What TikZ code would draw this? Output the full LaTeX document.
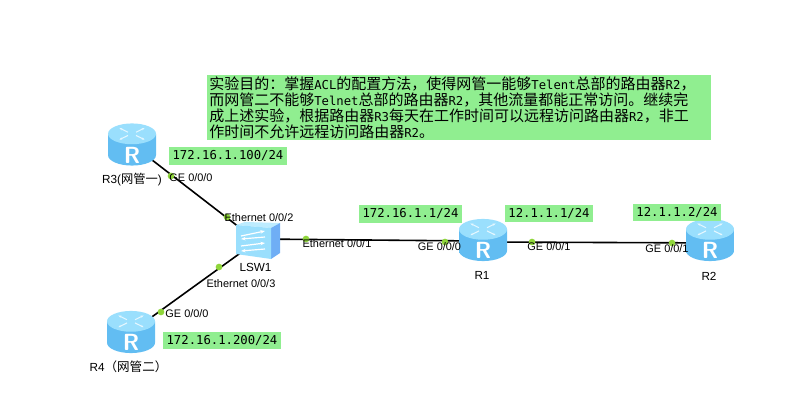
\documentclass[tikz,border=0pt]{standalone}
\usepackage{fontspec}
\usepackage{xcolor}
\usepackage{tikz}
\usetikzlibrary{arrows.meta}
\setmainfont{Liberation Sans}
\setmonofont{DejaVu Sans Mono}
\newfontfamily\cjk{Noto Sans CJK SC}
\definecolor{notegreen}{HTML}{90EE90}
\definecolor{portgreen}{HTML}{8FD63A}
\definecolor{iconpale}{HTML}{BDECFF}
\definecolor{iconmid}{HTML}{9ADFFD}
\definecolor{icondark}{HTML}{62BDF2}
\definecolor{swside}{HTML}{6FAEF5}
\newcommand{\mn}[1]{{\ttfamily\fontsize{9.2pt}{12pt}\selectfont #1}}

\begin{document}
\begin{tikzpicture}[
    x=0.75pt, y=-0.75pt,
    font=\fontsize{8.2pt}{10pt}\selectfont,
    routerbox/.style={rectangle, minimum width=36pt, minimum height=31.5pt, inner sep=0pt},
    routerbody/.style={left color=icondark, middle color=iconpale, right color=icondark},
    routertop/.style={fill=iconmid},
    rletter/.style={text=white, font=\fontsize{17.5pt}{17.5pt}\sffamily\bfseries\selectfont, inner sep=0pt},
    switchbox/.style={rectangle, minimum width=33pt, minimum height=28pt, inner sep=0pt},
    swarrow/.style={white, line width=0.9pt, -{Stealth[length=3.5pt]}},
    ipbox/.style={rectangle, fill=notegreen, inner sep=0pt, minimum height=13pt,
                  font=\ttfamily\fontsize{9.2pt}{12pt}\selectfont},
    notebox/.style={rectangle, fill=notegreen, anchor=north west, inner sep=1.5pt,
                    text width=375pt, minimum height=48pt, align=left,
                    font=\cjk\fontsize{11.25pt}{11.8pt}\selectfont},
    devlabel/.style={inner sep=0pt, font=\fontsize{8.8pt}{10pt}\selectfont},
    portlabel/.style={inner sep=0pt},
    port/.style={circle, fill=portgreen, inner sep=0pt, minimum size=5pt},
    link/.style={line width=1.2pt, black},
    glyph/.style={iconpale!40!white, line width=0.8pt, -{Stealth[length=2.2pt]}}
  ]
    \useasboundingbox (0,0) rectangle (795,402);

    %% ── Note
    \node[notebox] (note) at (207,75) {实验目的：掌握\mn{ACL}的配置方法，使得网管一能够\mn{Telent}总部的路由器\mn{R2}，\\
      而网管二不能够\mn{Telnet}总部的路由器\mn{R2}，其他流量都能正常访问。继续完\\
      成上述实验，根据路由器\mn{R3}每天在工作时间可以远程访问路由器\mn{R2}，非工\\
      作时间不允许远程访问路由器\mn{R2}。};

    %% ── Devices
    \node[routerbox] (r3) at (132,144.5) {};
    \node[routerbox] (r4) at (131,332) {};
    \node[routerbox] (r1) at (483,240) {};
    \node[routerbox] (r2) at (710,240) {};
    \node[switchbox] (lsw1) at (257,241) {};

    %% Links
    \draw[link] (r3.center) -- (lsw1.center);
    \draw[link] (r4.center) -- (lsw1.center);
    \draw[link] ([yshift=1.5pt]lsw1.center) -- ([yshift=-0.8pt]r1.center);
    \draw[link] ([yshift=-1.5pt]r1.center) -- ([yshift=-2.2pt]r2.center);

    %% Router faces
    \foreach \r in {r3,r4,r1,r2} {
      \shade[routerbody] ([shift={(-18pt,8pt)}]\r.center) -- ([shift={(-18pt,-8pt)}]\r.center)
        arc[start angle=180, end angle=360, x radius=18pt, y radius=7.8pt]
        -- ([shift={(18pt,8pt)}]\r.center) -- cycle;
      \fill[routertop] ([yshift=8pt]\r.center) ellipse (18pt and 7.8pt);
      \foreach \sx/\sy in {1/1,-1/1,-1/-1,1/-1} {
        \draw[glyph] ([shift={(\sx*3pt,8pt+\sy*1.2pt)}]\r.center) -- ([shift={(\sx*9.5pt,8pt+\sy*4.4pt)}]\r.center);
      }
      \node[rletter] (\r-letter) at ([yshift=-8pt]\r.center) {R};
    }

    %% Switch faces
    \fill[iconpale] (236,225) -- (245,222) -- (280,223) -- (271,228) -- cycle;
    \fill[swside] (271,228) -- (280,223) -- (280,253) -- (271,259) -- cycle;
    \fill[iconmid] (236,225) -- (271,228) -- (271,259) -- (236,254) -- cycle;
    \draw[swarrow] (241,236) -- (265,231);
    \draw[swarrow] (265,237) -- (241,239);
    \draw[swarrow] (241,246) -- (265,243);
    \draw[swarrow] (265,249) -- (241,251);

    %% ── Device labels
    \node[devlabel] (r3lab) at (132,180) {R3({\cjk\fontsize{9.2pt}{10pt}\selectfont 网管一})};
    \node[devlabel] (r4lab) at (128.5,366.5) {R4{\cjk\fontsize{9.4pt}{10pt}\selectfont （网管二）}};
    \node[devlabel] (swlab) at (255.5,267) {LSW1};
    \node[devlabel] (r1lab) at (482,275.5) {R1};
    \node[devlabel] (r2lab) at (709,276) {R2};

    %% ── Ports
    \node[port] (p1) at (171,176) {};
    \node[port] (p2) at (227,217) {};
    \node[port] (p3) at (219,267) {};
    \node[port] (p4) at (161,312) {};
    \node[port] (p5) at (306,239) {};
    \node[port] (p6) at (445,242) {};
    \node[port] (p7) at (532,242) {};
    \node[port] (p8) at (672,243) {};

    %% Port labels
    \node[portlabel] (g1) at (191,178) {GE 0/0/0};
    \node[portlabel] (g2) at (259,218) {Ethernet 0/0/2};
    \node[portlabel] (g3) at (241,284) {Ethernet 0/0/3};
    \node[portlabel] (g4) at (187,314) {GE 0/0/0};
    \node[portlabel] (g5) at (337,244) {Ethernet 0/0/1};
    \node[portlabel] (g6) at (439.5,247) {GE 0/0/0};
    \node[portlabel] (g7) at (549,247) {GE 0/0/1};
    \node[portlabel] (g8) at (667,249) {GE 0/0/1};

    %% ── Addresses
    \node[ipbox, minimum width=88.5pt] (ip3) at (228,156) {172.16.1.100/24};
    \node[ipbox, minimum width=88.5pt] (ip4) at (222,340.5) {172.16.1.200/24};
    \node[ipbox, minimum width=77pt] (ip1a) at (410.5,214) {172.16.1.1/24};
    \node[ipbox, minimum width=66pt] (ip1b) at (549,213.5) {12.1.1.1/24};
    \node[ipbox, minimum width=66pt] (ip2) at (677,212.5) {12.1.1.2/24};
  \end{tikzpicture}
\end{document}
